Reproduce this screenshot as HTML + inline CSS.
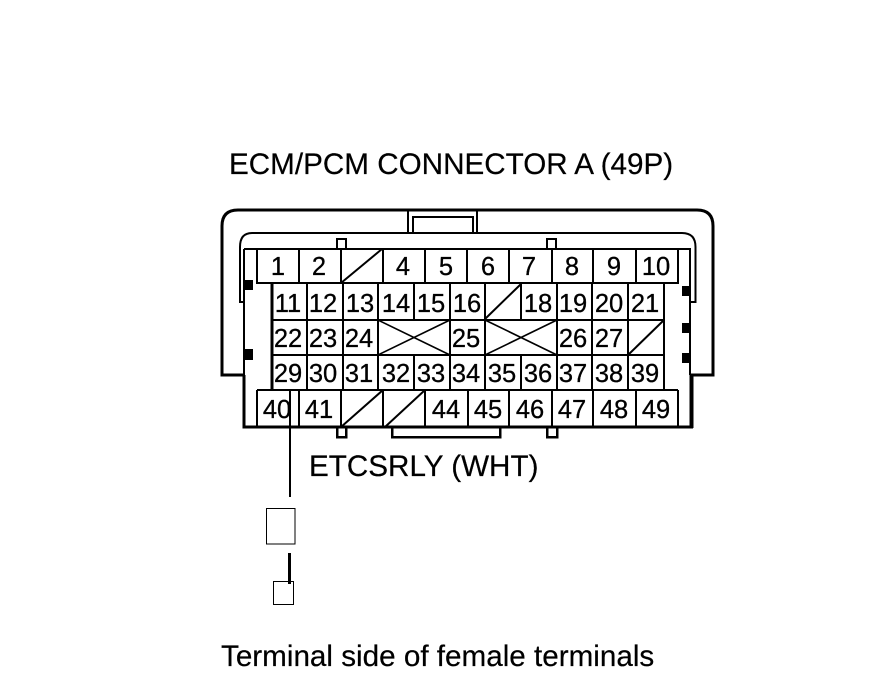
<!DOCTYPE html>
<html><head><meta charset="utf-8"><style>
html,body{margin:0;padding:0;background:#fff;width:880px;height:684px;overflow:hidden}
svg{display:block}
text{font-family:"Liberation Sans",sans-serif;fill:#000}
.n{font-size:25.500px;text-anchor:middle;stroke:#000;stroke-width:.3px}
.t{font-size:29.650px;stroke:#000;stroke-width:.2px}
</style></head><body>
<svg width="880" height="684" viewBox="0 0 880 684" xmlns="http://www.w3.org/2000/svg">
<g fill="none" stroke="#000" shape-rendering="crispEdges">
<!-- outer shell -->
<path d="M245 375H222V226Q222 210 238 210H697Q713 210 713 226V375H691" stroke-width="3" shape-rendering="auto"/>
<path d="M244 375V427H693" stroke-width="3"/>
<path d="M691.500 375V428" stroke-width="4"/>
<!-- inner shell -->
<path d="M244 302H240V247Q240 233 252 233H682Q695.500 233 695.500 247V302H690" stroke-width="2" shape-rendering="auto"/>
<!-- center latch -->
<path d="M408 209V233M477 209V233" stroke-width="2"/>
<path d="M413 233V217H473V233" stroke-width="2"/>
<!-- tabs -->
<path d="M337 249V239H346V249M547 249V239H556V249" stroke-width="2"/>
<path d="M337 428V437H346V428M547 428V437H557V428" stroke-width="2.500"/>
<path d="M392 428V437H500V428" stroke-width="2.500"/>
<!-- frame -->
<path d="M244 249H690V375M244 249V375" stroke-width="2"/>
<!-- row 1 -->
<path d="M257 249V283H678V249" stroke-width="2"/>
<path d="M299 249V283M341 249V283M383 249V283M425 249V283M467 249V283M509 249V283M552 249V283M593 249V283M636 249V283" stroke-width="2"/>
<!-- rows 2-4 -->
<path d="M272 283V390" stroke-width="3"/>
<path d="M307 283V390M343 283V390M378 283V390M414 283V320M414 355V390M450 283V390M485 283V390M521 283V320M521 355V390M557 320V390M557 283V320M592 283V390M628 283V390M664 283V390" stroke-width="2"/>
<path d="M272 320H664M272 355H664M257 390H678" stroke-width="2"/>
<!-- row 5 -->
<path d="M257 390V427M299 390V427M341 390V427M383 390V427M425 390V427M468 390V427M509 390V427M552 390V427M593 390V427M636 390V427M678 390V427" stroke-width="2"/>
</g>
<!-- diagonals -->
<g fill="none" stroke="#000" stroke-width="2">
<path d="M341 283L382 249M485 319L521 284M628 355L664 320M341 427L383 390M385 427L425 390"/>
<path d="M378 320L450 355M450 320L378 355M485 320L557 355M557 320L485 355" stroke-width="1.600"/>
</g>
<!-- blocks -->
<g fill="#000">
<rect x="245" y="280" width="8" height="10"/>
<rect x="244" y="349" width="9" height="11"/>
<rect x="682" y="286" width="9" height="10"/>
<rect x="682" y="323" width="9" height="10"/>
<rect x="682" y="353" width="9" height="10"/>
</g>
<!-- wire and terminals -->
<g fill="none" stroke="#000" shape-rendering="crispEdges">
<path d="M290 390V497" stroke-width="2"/>
<rect x="266.500" y="508.500" width="28.500" height="35.500" stroke-width="1"/>
<path d="M289.500 553V584" stroke-width="3"/>
<rect x="273.500" y="581.500" width="20" height="23" stroke-width="1"/>
</g>
<!-- numbers -->
<g class="n">
<text x="278" y="275">1</text><text x="319" y="275">2</text><text x="403" y="275">4</text><text x="446" y="275">5</text><text x="488" y="275">6</text><text x="529" y="275">7</text><text x="572" y="275">8</text><text x="614" y="275">9</text><text x="656" y="275">10</text>
<text x="288" y="312">11</text><text x="323" y="312">12</text><text x="360" y="312">13</text><text x="396" y="312">14</text><text x="431" y="312">15</text><text x="467" y="312">16</text><text x="538" y="312">18</text><text x="573" y="312">19</text><text x="609" y="312">20</text><text x="645" y="312">21</text>
<text x="288" y="347">22</text><text x="323" y="347">23</text><text x="359" y="347">24</text><text x="466" y="347">25</text><text x="573" y="347">26</text><text x="609" y="347">27</text>
<text x="288" y="382">29</text><text x="323" y="382">30</text><text x="359" y="382">31</text><text x="396" y="382">32</text><text x="431" y="382">33</text><text x="466" y="382">34</text><text x="502" y="382">35</text><text x="538" y="382">36</text><text x="573" y="382">37</text><text x="609" y="382">38</text><text x="645" y="382">39</text>
<text x="277" y="418">40</text><text x="319" y="418">41</text><text x="446" y="418">44</text><text x="488" y="418">45</text><text x="530" y="418">46</text><text x="572" y="418">47</text><text x="614" y="418">48</text><text x="656" y="418">49</text>
</g>
<text class="t" x="229" y="174">ECM/PCM CONNECTOR A (49P)</text>
<text class="t" x="309" y="476">ETCSRLY (WHT)</text>
<text class="t" x="221" y="666">Terminal side of female terminals</text>
</svg>
</body></html>
